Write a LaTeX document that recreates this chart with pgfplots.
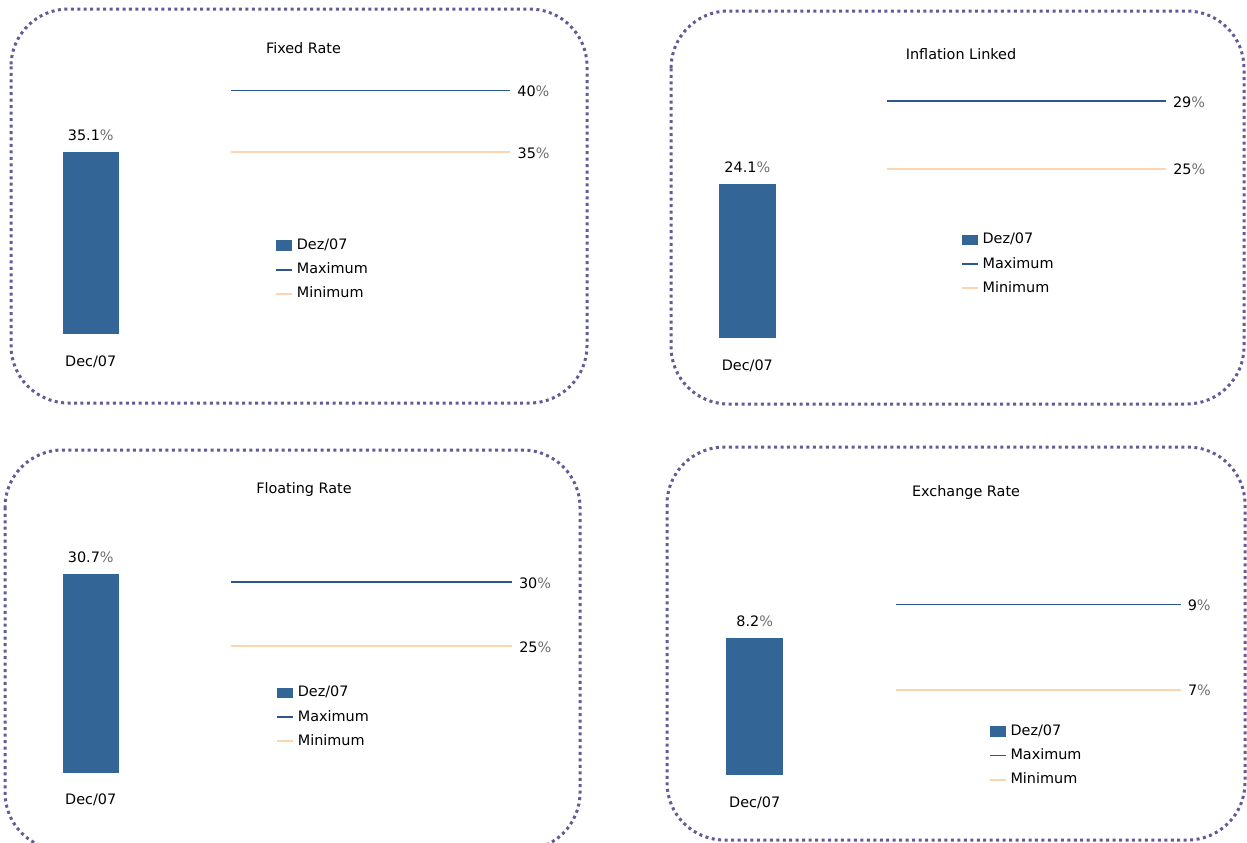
\documentclass[border=0pt]{standalone}
\usepackage{fontspec}
\setmainfont{DejaVu Sans}
\usepackage{pgfplots}
\pgfplotsset{compat=1.18}
\definecolor{barblue}{RGB}{52,101,151}
\definecolor{maxblue}{RGB}{44,86,140}
\definecolor{minpeach}{RGB}{252,213,176}
\definecolor{bordercol}{RGB}{96,92,152}
\definecolor{pctgray}{RGB}{110,110,110}
\pgfkeys{/pgf/number format/assume math mode=true}
\tikzset{
  lab/.style={pos=1, anchor=base west, inner sep=0pt, xshift=4.7pt, yshift=-4.7pt, text=black},
  panelborder/.style={draw=bordercol, line width=2.25pt, dash pattern=on 2.25pt off 2.6pt, rounded corners=43pt}
}
\pgfplotsset{
  shortline legend/.style={legend image code/.code={\draw[##1] (0pt,0pt) -- (12pt,0pt);}},
  shortarea legend/.style={legend image code/.code={\fill[##1] (0pt,-4pt) rectangle (12pt,4pt);}},
  barax/.style={scale only axis, ybar, bar shift=0pt, xmin=-0.5, xmax=0.5, ymin=0,
    anchor=south west, axis line style={draw=none}, ytick=\empty, xtick={0},
    xticklabels={Dec/07}, major tick length=0pt, tick style={draw=none},
    xticklabel style={anchor=base, inner sep=0pt, yshift=-24.2pt},
    clip=false,
    nodes near coords={\pgfmathprintnumber[fixed,fixed zerofill,precision=1]{\pgfplotspointmeta}{\color{pctgray}\%}},
    every node near coord/.append style={anchor=base, inner sep=0pt, yshift=8.5pt, text=black}},
  lineax/.style={scale only axis, anchor=south west, xmin=0, xmax=1,
    axis line style={draw=none}, xtick=\empty, ytick=\empty, clip=false,
    legend cell align=left,
    legend style={draw=none, fill=none, inner sep=0pt, anchor=north west,
      row sep=8.15pt, column sep=2.7pt,
      nodes={inner sep=0pt, text height=8pt, text depth=2pt}}},
  maxst/.style={draw=maxblue, line width=1.1pt, mark=none, shortline legend},
  minst/.style={draw=minpeach, line width=1.5pt, mark=none, shortline legend}
}
\begin{document}
\fontsize{10.8pt}{13pt}\selectfont
\begin{tikzpicture}
\useasboundingbox (0,0) rectangle (935.25pt,-632.25pt);
\clip (0,0) rectangle (935.25pt,-632.25pt);

% borders
\draw[panelborder] (8.25pt,-6.75pt) rectangle (440.25pt,-302.25pt);
\draw[panelborder] (503.25pt,-8.25pt) rectangle (933pt,-303pt);
\draw[panelborder] (3.75pt,-337.5pt) rectangle (435pt,-637.5pt);
\draw[panelborder] (500.25pt,-335.25pt) rectangle (933.75pt,-630pt);

% titles
\node[anchor=base, inner sep=0pt] at (227.63pt,-39.75pt) {Fixed Rate};
\node[anchor=base, inner sep=0pt] at (720.75pt,-44.25pt) {Inflation Linked};
\node[anchor=base, inner sep=0pt] at (228pt,-370.13pt) {Floating Rate};
\node[anchor=base, inner sep=0pt] at (724.5pt,-372pt) {Exchange Rate};

% ---------- Panel 1: Fixed Rate ----------
\begin{axis}[barax, at={(47.03pt,-250.73pt)}, width=42.08pt, height=136.95pt, ymax=35.1, bar width=42.08pt]
\addplot[fill=barblue, draw=none] coordinates {(0,35.1)};
\end{axis}
\begin{axis}[lineax, at={(173.1pt,-114pt)}, width=209.7pt, height=45.98pt, ymin=35, ymax=40,
  legend style={at={(0.1581,-1.4132)}}]
\addlegendimage{shortarea legend, fill=barblue, draw=none}
\addlegendentry{Dez/07}
\addplot[maxst] coordinates {(0,40) (1,40)} node[lab] {40{\color{pctgray}\%}};
\addlegendentry{Maximum}
\addplot[minst] coordinates {(0,35) (1,35)} node[lab] {35{\color{pctgray}\%}};
\addlegendentry{Minimum}
\end{axis}

% ---------- Panel 2: Inflation Linked ----------
\begin{axis}[barax, at={(539.25pt,-253.73pt)}, width=42.5pt, height=115.95pt, ymax=24.1, bar width=42.5pt]
\addplot[fill=barblue, draw=none] coordinates {(0,24.1)};
\end{axis}
\begin{axis}[lineax, at={(665.25pt,-126.53pt)}, width=209.25pt, height=50.78pt, ymin=25, ymax=29,
  legend style={at={(0.2642,-0.9502)}}]
\addlegendimage{shortarea legend, fill=barblue, draw=none}
\addlegendentry{Dez/07}
\addplot[maxst] coordinates {(0,29) (1,29)} node[lab] {29{\color{pctgray}\%}};
\addlegendentry{Maximum}
\addplot[minst] coordinates {(0,25) (1,25)} node[lab] {25{\color{pctgray}\%}};
\addlegendentry{Minimum}
\end{axis}

% ---------- Panel 3: Floating Rate ----------
\begin{axis}[barax, at={(47.03pt,-579.53pt)}, width=42.08pt, height=149.25pt, ymax=30.7, bar width=42.08pt]
\addplot[fill=barblue, draw=none] coordinates {(0,30.7)};
\end{axis}
\begin{axis}[lineax, at={(173.25pt,-484.5pt)}, width=210.75pt, height=48pt, ymin=25, ymax=30,
  legend style={at={(0.1601,-0.6255)}}]
\addlegendimage{shortarea legend, fill=barblue, draw=none}
\addlegendentry{Dez/07}
\addplot[maxst] coordinates {(0,30) (1,30)} node[lab] {30{\color{pctgray}\%}};
\addlegendentry{Maximum}
\addplot[minst] coordinates {(0,25) (1,25)} node[lab] {25{\color{pctgray}\%}};
\addlegendentry{Minimum}
\end{axis}

% ---------- Panel 4: Exchange Rate ----------
\begin{axis}[barax, at={(544.65pt,-581.25pt)}, width=42.83pt, height=102.53pt, ymax=8.2, bar width=42.83pt]
\addplot[fill=barblue, draw=none] coordinates {(0,8.2)};
\end{axis}
\begin{axis}[lineax, at={(672.3pt,-517.28pt)}, width=213.3pt, height=64.05pt, ymin=7, ymax=9,
  legend style={at={(0.3245,-0.4055)}}]
\addlegendimage{shortarea legend, fill=barblue, draw=none}
\addlegendentry{Dez/07}
\addplot[maxst] coordinates {(0,9) (1,9)} node[lab] {9{\color{pctgray}\%}};
\addlegendentry{Maximum}
\addplot[minst] coordinates {(0,7) (1,7)} node[lab] {7{\color{pctgray}\%}};
\addlegendentry{Minimum}
\end{axis}
\end{tikzpicture}
\end{document}
